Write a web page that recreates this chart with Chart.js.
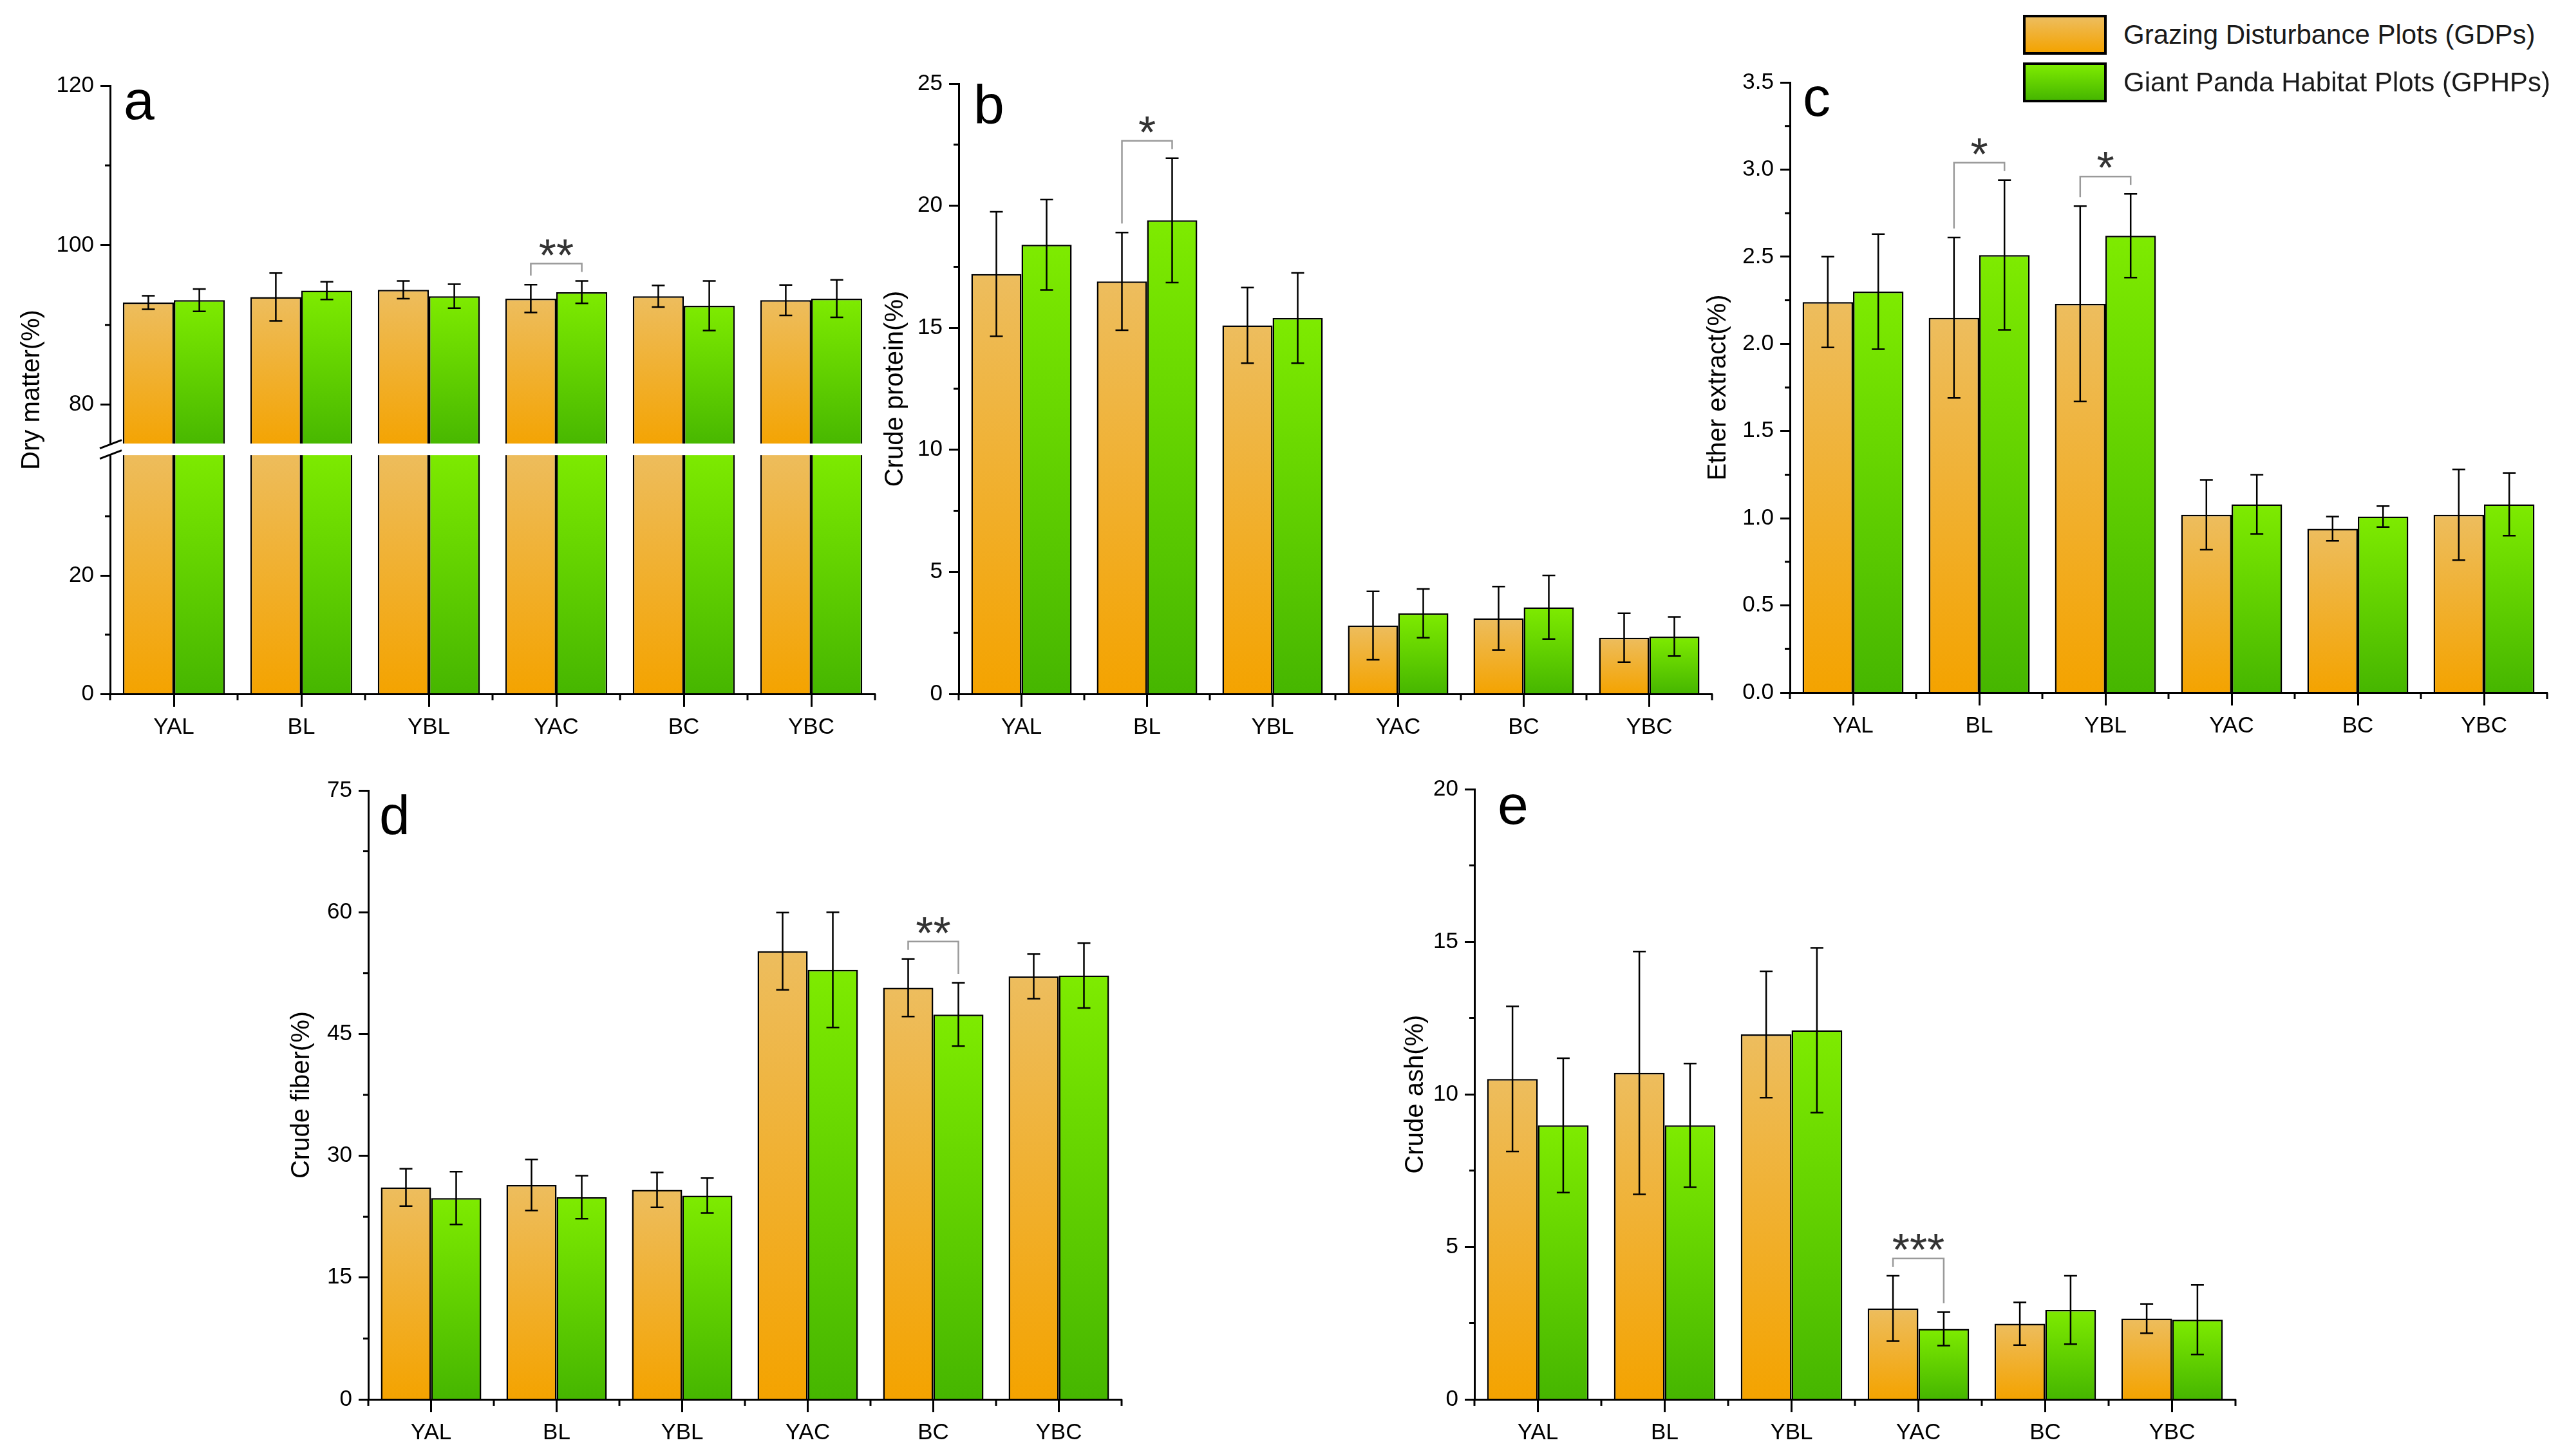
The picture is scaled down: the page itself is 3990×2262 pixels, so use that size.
<!DOCTYPE html>
<html>
<head>
<meta charset="utf-8">
<title>Forage nutrients in grazing vs giant panda habitat plots</title>
<script src="https://cdn.jsdelivr.net/npm/chart.js@4.4.1/dist/chart.umd.min.js"></script>
<style>
  html, body { margin: 0; padding: 0; background: #fff; }
  body { position: relative; width: 3990px; height: 2262px; overflow: hidden; font-family: "Liberation Sans", Arial, sans-serif; }
  canvas { position: absolute; }
  .tag { position: absolute; font-size: 86px; line-height: 86px; color: #000; }
  .key { position: absolute; left: 3142px; height: 62px; display: flex; align-items: center; }
  .key i { display: block; width: 130px; height: 62px; box-sizing: border-box; border: 4px solid #000; }
  .key span { margin-left: 26px; font-size: 42px; color: #1a1a1a; white-space: nowrap; }
</style>
</head>
<body>
<canvas id="chartA"></canvas>
<canvas id="chartB"></canvas>
<canvas id="chartC"></canvas>
<canvas id="chartD"></canvas>
<canvas id="chartE"></canvas>
<div class="tag" style="left:192px;top:112px">a</div>
<div class="tag" style="left:1512px;top:119px">b</div>
<div class="tag" style="left:2800px;top:107px">c</div>
<div class="tag" style="left:589px;top:1223px">d</div>
<div class="tag" style="left:2326px;top:1207px">e</div>
<div id="legend"></div>
<script>
const sites = ['YAL', 'BL', 'YBL', 'YAC', 'BC', 'YBC'];
const seriesNames = ['Grazing Disturbance Plots (GDPs)', 'Giant Panda Habitat Plots (GPHPs)'];

// a - dry matter (%)
const dryGdp = [92.8, 93.5, 94.4, 93.3, 93.6, 93.1];
const dryGdpSd = [0.85, 3.0, 1.1, 1.75, 1.35, 1.9];
const dryGphp = [93.1, 94.3, 93.6, 94.1, 92.4, 93.3];
const dryGphpSd = [1.4, 1.1, 1.5, 1.4, 3.1, 2.35];
const drySig = ['', '', '', '**', '', ''];
const dryTicks = [0, 20, 80, 100, 120];
const dryMinor = [10, 30, 90, 110];

// b - crude protein (%)
const cpGdp = [17.2, 16.9, 15.1, 2.8, 3.1, 2.3];
const cpGdpSd = [2.55, 2.0, 1.55, 1.4, 1.3, 1.0];
const cpGphp = [18.4, 19.4, 15.4, 3.3, 3.55, 2.35];
const cpGphpSd = [1.85, 2.55, 1.85, 1.0, 1.3, 0.8];
const cpSig = ['', '*', '', '', '', ''];
const cpTicks = [0, 5, 10, 15, 20, 25];
const cpMinor = [2.5, 7.5, 12.5, 17.5, 22.5];

// c - ether extract (%)
const eeGdp = [2.24, 2.15, 2.23, 1.02, 0.94, 1.02];
const eeGdpSd = [0.26, 0.46, 0.56, 0.20, 0.07, 0.26];
const eeGphp = [2.30, 2.51, 2.62, 1.08, 1.01, 1.08];
const eeGphpSd = [0.33, 0.43, 0.24, 0.17, 0.06, 0.18];
const eeSig = ['', '*', '*', '', '', ''];
const eeTicks = [0, 0.5, 1, 1.5, 2, 2.5, 3, 3.5];
const eeMinor = [0.25, 0.75, 1.25, 1.75, 2.25, 2.75, 3.25];

// d - crude fiber (%)
const cfGdp = [26.1, 26.4, 25.8, 55.2, 50.7, 52.1];
const cfGdpSd = [2.3, 3.15, 2.15, 4.75, 3.55, 2.75];
const cfGphp = [24.8, 24.9, 25.1, 52.9, 47.4, 52.2];
const cfGphpSd = [3.25, 2.65, 2.15, 7.1, 3.9, 4.0];
const cfSig = ['', '', '', '', '**', ''];
const cfTicks = [0, 15, 30, 45, 60, 75];
const cfMinor = [7.5, 22.5, 37.5, 52.5, 67.5];

// e - crude ash (%)
const caGdp = [10.5, 10.7, 11.96, 2.98, 2.48, 2.65];
const caGdpSd = [2.38, 3.98, 2.07, 1.07, 0.7, 0.48];
const caGphp = [8.98, 8.98, 12.1, 2.31, 2.93, 2.61];
const caGphpSd = [2.2, 2.03, 2.7, 0.55, 1.12, 1.14];
const caSig = ['', '', '', '***', '', ''];
const caTicks = [0, 5, 10, 15, 20];
const caMinor = [2.5, 7.5, 12.5, 17.5];

const fills = [['#EDBD5E', '#F4A300'], ['#7EEB00', '#46B600']];

Chart.defaults.font.family = '"Liberation Sans", Arial, sans-serif';
Chart.defaults.color = '#000';
Chart.defaults.animation = false;

const AXIS_W = 150, PAD_T = 40, PAD_R = 12, XAX_H = 100;

// per-bar vertical gradient, light at the top of the bar, saturated at its base
function barFill(stops) {
  return (c) => {
    const chart = c.chart;
    if (c.type !== 'data' || !chart.chartArea) return stops[1];
    const ys = chart.scales[c.dataset.yAxisID];
    const top = ys.getPixelForValue(c.parsed.y);
    const bot = ys.getPixelForValue(c.dataset.base === undefined ? 0 : c.dataset.base);
    if (!isFinite(top) || !isFinite(bot) || top === bot) return stops[1];
    const g = chart.ctx.createLinearGradient(0, top, 0, bot);
    g.addColorStop(0, stops[0]);
    g.addColorStop(1, stops[1]);
    return g;
  };
}

function barSet(label, data, stops, axis, stack, base) {
  const ds = {
    label, data, yAxisID: axis, stack,
    backgroundColor: barFill(stops),
    borderColor: '#000', borderWidth: 2.5, borderSkipped: 'start',
    categoryPercentage: 0.8, barPercentage: 1.0,
  };
  if (base !== undefined) ds.base = base;
  return ds;
}

function yAxis(p, min, max, extra) {
  return Object.assign({
    type: 'linear', position: 'left', stacked: false, min, max,
    border: {color: '#000', width: 3, z: 1},
    grid: {drawOnChartArea: false, tickLength: 15, tickWidth: 3, tickColor: '#000', z: 1},
    ticks: {color: '#000', font: {size: 35}, padding: 10, z: 1, callback: v => v.toFixed(p.dec)},
    title: {display: !p.brk, text: p.title, color: '#000', font: {size: 40}, padding: {top: 126 - p.titleGap, bottom: 0}},
    afterBuildTicks: s => { s.ticks = p.ticks.filter(v => v >= s.min && v <= s.max).map(v => ({value: v})); },
    afterFit: s => { s.width = AXIS_W; },
  }, extra);
}

function decor(p) {
  return {
    id: 'decor',
    afterDatasetsDraw(chart) {
      const ctx = chart.ctx, ys = chart.scales[p.errAxis];
      const tops = [];
      ctx.save();
      ctx.strokeStyle = '#000';
      ctx.lineWidth = 2.5;
      p.means.forEach((means, k) => {
        const bars = chart.getDatasetMeta(k).data;
        tops[k] = means.map((m, i) => {
          const x = bars[i].x;
          const hi = ys.getPixelForValue(m + p.sds[k][i]);
          const lo = ys.getPixelForValue(m - p.sds[k][i]);
          ctx.beginPath();
          ctx.moveTo(x, hi); ctx.lineTo(x, lo);
          ctx.moveTo(x - 10, hi); ctx.lineTo(x + 10, hi);
          ctx.moveTo(x - 10, lo); ctx.lineTo(x + 10, lo);
          ctx.stroke();
          return hi;
        });
      });
      // significance brackets
      ctx.strokeStyle = '#9a9a9a';
      ctx.fillStyle = '#333';
      ctx.font = '70px "Liberation Sans", Arial, sans-serif';
      ctx.textAlign = 'center';
      ctx.textBaseline = 'alphabetic';
      p.sig.forEach((s, i) => {
        if (!s) return;
        const x0 = chart.getDatasetMeta(0).data[i].x, x1 = chart.getDatasetMeta(1).data[i].x;
        const yb = Math.min(tops[0][i], tops[1][i]) - 27;
        ctx.beginPath();
        ctx.moveTo(x0, Math.max(tops[0][i] - 14, yb + 10));
        ctx.lineTo(x0, yb);
        ctx.lineTo(x1, yb);
        ctx.lineTo(x1, Math.max(tops[1][i] - 14, yb + 10));
        ctx.stroke();
        const m = ctx.measureText(s);
        ctx.fillText(s, (x0 + x1) / 2, yb - 13 - m.actualBoundingBoxDescent);
      });
      ctx.restore();
    },
    afterDraw(chart) {
      const ctx = chart.ctx, area = chart.chartArea;
      ctx.save();
      ctx.strokeStyle = '#000';
      ctx.lineWidth = 3;
      ctx.beginPath();
      p.minor.forEach(v => {
        const ys = Object.values(chart.scales).find(s => s.axis === 'y' && v >= s.min && v <= s.max);
        if (!ys) return;
        const y = ys.getPixelForValue(v);
        ctx.moveTo(area.left - 8, y); ctx.lineTo(area.left, y);
      });
      const step = (area.right - area.left) / sites.length;
      for (let i = 0; i <= sites.length; i++) {
        const x = area.left + i * step;
        ctx.moveTo(x, area.bottom); ctx.lineTo(x, area.bottom + 10);
      }
      ctx.stroke();
      if (p.brk) {
        const J = chart.scales.yHigh.bottom;
        ctx.fillStyle = '#fff';
        ctx.fillRect(area.left - 22, J - 9, area.right - area.left + 26, 18);
        ctx.beginPath();
        [-8, 8].forEach(d => { ctx.moveTo(area.left - 16, J + d + 6.5); ctx.lineTo(area.left + 18, J + d - 6.5); });
        ctx.stroke();
        ctx.translate(area.left - p.titleGap, (area.top + area.bottom) / 2);
        ctx.rotate(-Math.PI / 2);
        ctx.fillStyle = '#000';
        ctx.font = '40px "Liberation Sans", Arial, sans-serif';
        ctx.textAlign = 'center';
        ctx.textBaseline = 'middle';
        ctx.fillText(p.title, 0, 0);
      }
      ctx.restore();
    }
  };
}

function makeChart(p) {
  const cv = document.getElementById(p.id), box = p.box;
  const w = box.r - box.l + AXIS_W + PAD_R, h = box.b - box.t + PAD_T + XAX_H;
  Object.assign(cv.style, {left: (box.l - AXIS_W) + 'px', top: (box.t - PAD_T) + 'px', width: w + 'px', height: h + 'px'});
  cv.width = w; cv.height = h;

  const scales = {
    x: {
      stacked: true, offset: true,
      border: {color: '#000', width: 3, z: 1},
      grid: {offset: false, drawOnChartArea: false, tickLength: 20, tickWidth: 3, tickColor: '#000', z: 1},
      ticks: {color: '#000', font: {size: 35}, padding: 11, autoSkip: false, maxRotation: 0, z: 1},
      afterFit: s => { s.height = XAX_H; },
    }
  };
  let datasets;
  const lo = p.ticks[0], hi = p.ticks[p.ticks.length - 1];
  if (p.brk) {
    const b = p.brk;
    scales.yHigh = yAxis(p, b.highMin, hi, {stack: 'split', stackWeight: b.highWeight, weight: 2});
    scales.yLow = yAxis(p, lo, b.lowMax, {stack: 'split', stackWeight: b.lowWeight, weight: 1});
    datasets = [
      barSet(seriesNames[0], p.means[0], fills[0], 'yHigh', 'g', b.highMin),
      barSet(seriesNames[1], p.means[1], fills[1], 'yHigh', 'p', b.highMin),
      barSet(seriesNames[0], p.means[0].map(v => Math.min(v, b.lowMax)), fills[0], 'yLow', 'g'),
      barSet(seriesNames[1], p.means[1].map(v => Math.min(v, b.lowMax)), fills[1], 'yLow', 'p'),
    ];
  } else {
    scales.y = yAxis(p, lo, hi, {});
    datasets = [
      barSet(seriesNames[0], p.means[0], fills[0], 'y', 'g'),
      barSet(seriesNames[1], p.means[1], fills[1], 'y', 'p'),
    ];
  }
  return new Chart(cv, {
    type: 'bar',
    data: {labels: sites, datasets},
    options: {
      responsive: false, animation: false, devicePixelRatio: 1,
      layout: {padding: {top: PAD_T, right: PAD_R, left: 0, bottom: 0}},
      plugins: {legend: {display: false}, tooltip: {enabled: false}},
      scales,
    },
    plugins: [decor(p)],
  });
}

makeChart({id: 'chartA', box: {l: 171, t: 133, r: 1359, b: 1078}, title: 'Dry matter(%)', titleGap: 121, dec: 0,
  means: [dryGdp, dryGphp], sds: [dryGdpSd, dryGphpSd], sig: drySig, ticks: dryTicks, minor: dryMinor, errAxis: 'yHigh',
  brk: {highMin: 74.4, lowMax: 41.3, highWeight: 0.598, lowWeight: 0.402}});
makeChart({id: 'chartB', box: {l: 1489, t: 130, r: 2659, b: 1078}, title: 'Crude protein(%)', titleGap: 98, dec: 0,
  means: [cpGdp, cpGphp], sds: [cpGdpSd, cpGphpSd], sig: cpSig, ticks: cpTicks, minor: cpMinor, errAxis: 'y'});
makeChart({id: 'chartC', box: {l: 2780, t: 128, r: 3956, b: 1076}, title: 'Ether extract(%)', titleGap: 111, dec: 1,
  means: [eeGdp, eeGphp], sds: [eeGdpSd, eeGphpSd], sig: eeSig, ticks: eeTicks, minor: eeMinor, errAxis: 'y'});
makeChart({id: 'chartD', box: {l: 572, t: 1228, r: 1742, b: 2174}, title: 'Crude fiber(%)', titleGap: 103, dec: 0,
  means: [cfGdp, cfGphp], sds: [cfGdpSd, cfGphpSd], sig: cfSig, ticks: cfTicks, minor: cfMinor, errAxis: 'y'});
makeChart({id: 'chartE', box: {l: 2290, t: 1226, r: 3472, b: 2174}, title: 'Crude ash(%)', titleGap: 91, dec: 0,
  means: [caGdp, caGphp], sds: [caGdpSd, caGphpSd], sig: caSig, ticks: caTicks, minor: caMinor, errAxis: 'y'});

const legend = document.getElementById('legend');
seriesNames.forEach((name, i) => {
  const row = document.createElement('div');
  row.className = 'key';
  row.style.top = (23 + i * 74) + 'px';
  const sw = document.createElement('i');
  sw.style.background = 'linear-gradient(' + fills[i][0] + ', ' + fills[i][1] + ')';
  const tx = document.createElement('span');
  tx.textContent = name;
  row.append(sw, tx);
  legend.append(row);
});
</script>
</body>
</html>
